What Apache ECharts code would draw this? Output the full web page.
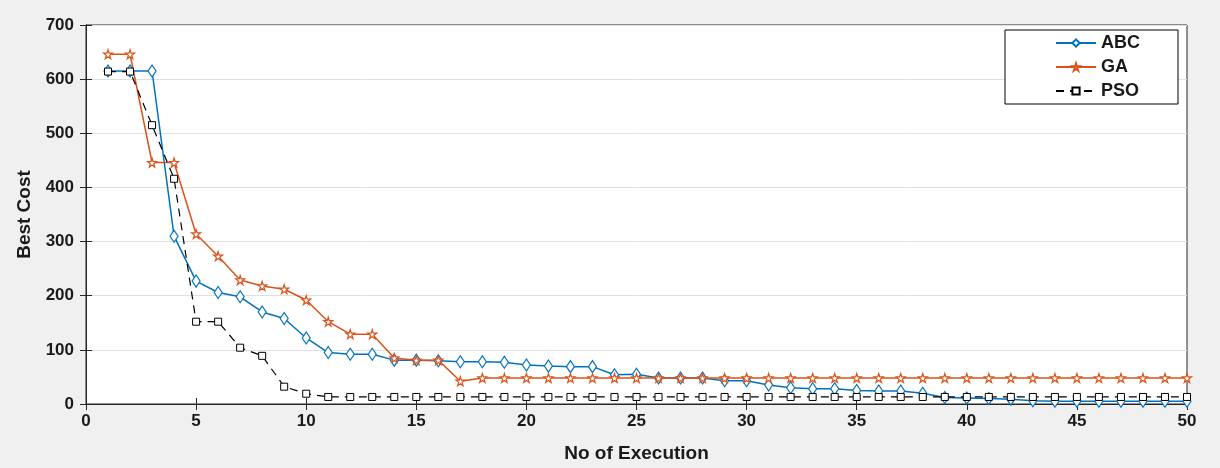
<!DOCTYPE html>
<html><head><meta charset="utf-8">
<script src="https://cdn.jsdelivr.net/npm/echarts@6/dist/echarts.min.js"></script>
<style>html,body{margin:0;padding:0;background:#f0f0f0}#c{width:1220px;height:468px}</style>
</head><body><div id="c"></div>
<script>
const executions = Array.from({length:50},(_,i)=>i+1);
const abc = [615,615,615,310,227,206,198,170,158,122,95,92,92,81,81,80,78,78,77,72,70,69,69,54,55,48,48,48,43,43,35,30,28,28,25,24,24,20,12,11,10,9,6,5,5,5,5,5,5,5];
const ga = [646,646,446,446,314,273,229,218,212,192,152,129,129,85,81,81,42,48,48,48,48,48,48,48,48,48,48,48,48,48,48,48,48,48,48,48,48,48,48,48,48,48,48,48,48,48,48,48,48,48];
const pso = [614,614,515,416,152,152,104,89,32,19,13,13,13,13,13,13,13,13,13,13,13,13,13,13,13,13,13,13,13,13,13,13,13,13,13,13,13,13,13,13,13,13,13,13,13,13,13,13,13,13];
const xTicks = [0,5,10,15,20,25,30,35,40,45,50];
const yTicks = [0,100,200,300,400,500,600,700];

const star = 'path://M50,0 L61,35 L98,35 L68,57 L79,91 L50,70 L21,91 L32,57 L2,35 L39,35 Z';
const font = {fontFamily:'Liberation Sans, Arial', fontWeight:'bold', color:'#1a1a1a'};
function pairs(arr){return arr.map((v,i)=>[executions[i],v]);}
const chart = echarts.init(document.getElementById('c'));
chart.setOption({
  backgroundColor:'#f0f0f0',
  animation:false,
  grid:{left:86,top:25,width:1101,height:380,show:true,backgroundColor:'#fff',borderColor:'#262626',borderWidth:1},
  legend:{
    right:42, top:30, orient:'vertical', backgroundColor:'#fff', borderColor:'#000', borderWidth:1,
    padding:[4,38,4,50], itemGap:6, itemWidth:40, itemHeight:9,
    textStyle:Object.assign({fontSize:18},font),
    data:['ABC','GA','PSO']
  },
  xAxis:[{
    type:'value', min:0, max:50, interval:5,
    name:'No of Execution', nameLocation:'middle', nameGap:40,
    nameTextStyle:Object.assign({fontSize:19},font),
    axisLine:{lineStyle:{color:'#262626'}},
    axisTick:{inside:true,length:6,lineStyle:{color:'#262626'}},
    axisLabel:Object.assign({fontSize:17,margin:9},font),
    splitLine:{show:false}
  },{
    type:'value', min:0, max:50, interval:5, position:'top',
    axisLine:{show:true,lineStyle:{color:'#262626'}},
    axisTick:{inside:true,length:6,lineStyle:{color:'#262626'}},
    axisLabel:{show:false}, splitLine:{show:false}
  }],
  yAxis:[{
    type:'value', min:0, max:700, interval:100,
    name:'Best Cost', nameLocation:'middle', nameGap:50,
    nameTextStyle:Object.assign({fontSize:19},font),
    axisLine:{show:true,lineStyle:{color:'#262626'}},
    axisTick:{show:true,inside:true,length:6,lineStyle:{color:'#262626'}},
    axisLabel:Object.assign({fontSize:17,margin:12},font),
    splitLine:{show:true,lineStyle:{color:'#e0e0e0'}}
  },{
    type:'value', min:0, max:700, interval:100, position:'right',
    axisLine:{show:true,lineStyle:{color:'#262626'}},
    axisTick:{show:true,inside:true,length:6,lineStyle:{color:'#262626'}},
    axisLabel:{show:false}, splitLine:{show:false}
  }],
  series:[
    {name:'ABC', type:'line', data:pairs(abc), symbol:'diamond', symbolSize:[8,12],
     lineStyle:{color:'#0072BD',width:1.5}, itemStyle:{color:'#fff',borderColor:'#0072BD',borderWidth:1.2}, z:3},
    {name:'GA', type:'line', data:pairs(ga), symbol:star, symbolSize:9,
     lineStyle:{color:'#D95319',width:1.5}, itemStyle:{color:'#fff',borderColor:'#D95319',borderWidth:1.2}, z:4},
    {name:'PSO', type:'line', data:pairs(pso), symbol:'rect', symbolSize:7,
     lineStyle:{color:'#000',width:1.2,type:[8,6]}, itemStyle:{color:'#fff',borderColor:'#000',borderWidth:1}, z:5}
  ]
});
</script></body></html>
